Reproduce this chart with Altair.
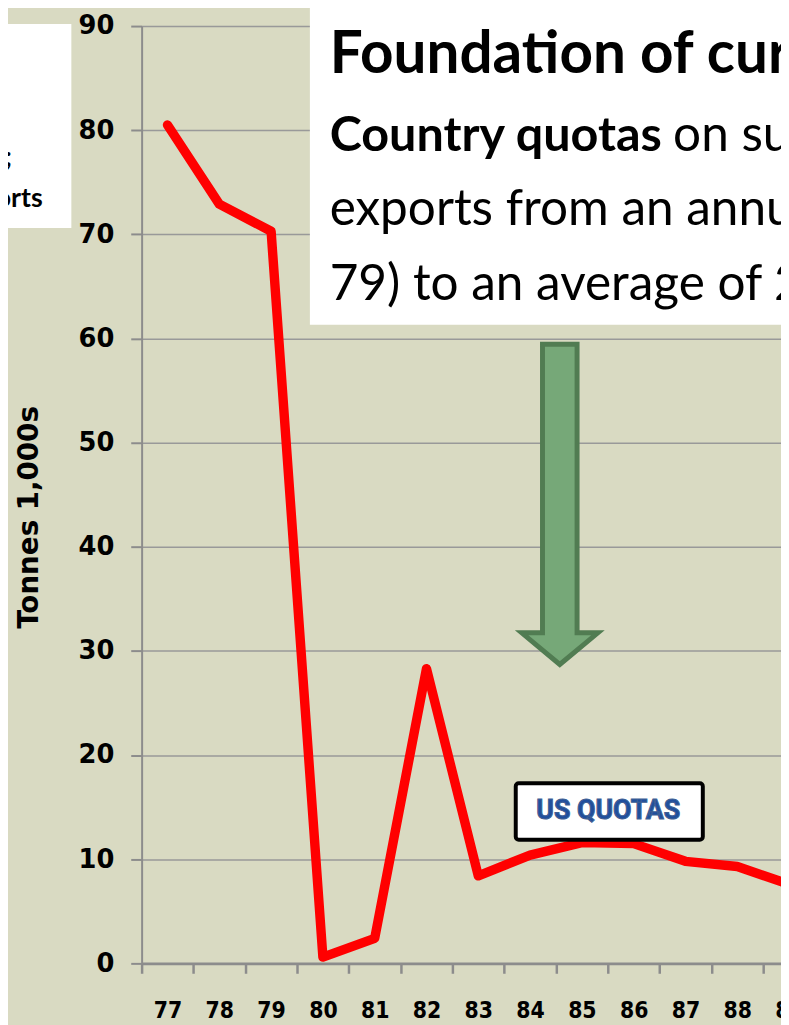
import altair as alt
import pandas as pd

# ---- data ----
years = [77, 78, 79, 80, 81, 82, 83, 84, 85, 86, 87, 88, 89]
tonnes = [80.5, 72.9, 70.3, 0.6, 2.4, 28.3, 8.4, 10.4, 11.6, 11.5, 9.8, 9.3, 7.6]
y_ticks = [0, 10, 20, 30, 40, 50, 60, 70, 80, 90]
x_bounds = [76.5, 77.5, 78.5, 79.5, 80.5, 81.5, 82.5, 83.5, 84.5, 85.5, 86.5, 87.5, 88.5]

y_title = "Tonnes 1,000s"
title_line = "Foundation of cur"
body_bold = "Country quotas"
body_line2 = "on su"
body_line3 = "exports from an annu"
body_line4 = "79) to an average of 2"
left_fragments = [";", "orts"]
quota_label = "US QUOTAS"

# ---- layout / style ----
W, H = 646, 947
BAND = 52.33
BG = "#D9DAC2"
AXIS_GREY = "#8c8c8c"
GRID_GREY = "#999999"
NUM_FONT = "DejaVu Sans"
NARROW_FONT = "DejaVu Sans Condensed, DejaVu Sans"
TEXT_FONT = "Lato"

xs = alt.Scale(domain=[76.5, 76.5 + W / BAND], nice=False, zero=False)
ys = alt.Scale(domain=[0, 90], nice=False, zero=False)

df = pd.DataFrame({"year": years, "tonnes": tonnes})

line = alt.Chart(df).mark_line(
    color="#FF0000", strokeWidth=9.5, clip=True, strokeJoin="round", strokeCap="round"
).encode(
    x=alt.X("year:Q", scale=xs, axis=alt.Axis(
        values=x_bounds, grid=False, domainColor=AXIS_GREY, domainWidth=3,
        tickColor=AXIS_GREY, tickWidth=2.5, tickSize=10,
        labelExpr="'' + (datum.value + 0.5)", labelOffset=BAND / 2,
        labelFlush=False, labelOverlap=False, labelFont=NARROW_FONT,
        labelFontSize=23, labelFontWeight="bold", labelColor="black",
        labelPadding=27, title=None)),
    y=alt.Y("tonnes:Q", scale=ys, axis=alt.Axis(
        values=y_ticks, grid=True, gridColor=GRID_GREY, gridWidth=1.5,
        domainColor=AXIS_GREY, domainWidth=2, tickColor=AXIS_GREY, tickWidth=2,
        tickSize=11, labelFont=NUM_FONT, labelFontSize=26, labelFontWeight="bold",
        labelColor="black", labelPadding=17, title=y_title, titleFont=NUM_FONT,
        titleFontSize=28, titleFontWeight="bold", titleColor="black",
        titlePadding=35, titleY=496)),
)

one = pd.DataFrame({"k": [0]})

# arrow annotation (custom symbol path)
ARROW = ("M-0.108,-1 L0.108,-1 L0.108,0.802 L0.238,0.802 L0,1 "
         "L-0.238,0.802 L-0.108,0.802 Z")
arrow = alt.Chart(one).mark_point(
    shape=ARROW, size=323.5 ** 2, filled=True, fill="#76A878",
    stroke="#517C52", strokeWidth=5, opacity=1
).encode(x=alt.value(422.5), y=alt.value(483.3))

# US QUOTAS box
qbox = alt.Chart(one).mark_rect(
    fill="white", stroke="black", strokeWidth=4, cornerRadius=3
).encode(x=alt.value(378), x2=alt.value(567), y=alt.value(765), y2=alt.value(822))

qtext = alt.Chart(pd.DataFrame({"t": [quota_label]})).mark_text(
    font="Roboto", fontSize=27, fontWeight="bold", color="#1F4F9E",
    stroke="#3f5f94", strokeWidth=1.1, align="center", baseline="middle"
).encode(x=alt.value(471.5), y=alt.value(793), text="t:N")

# white boxes
title_box = alt.Chart(one).mark_rect(fill="white").encode(
    x=alt.value(170), x2=alt.value(720), y=alt.value(-30), y2=alt.value(301.7))
left_box = alt.Chart(one).mark_rect(fill="white").encode(
    x=alt.value(-160), x2=alt.value(-71), y=alt.value(-2), y2=alt.value(204))


def txt(s, x, y, size, weight="normal", align="left"):
    return alt.Chart(pd.DataFrame({"t": [s]})).mark_text(
        font=TEXT_FONT, fontSize=size, fontWeight=weight, color="black",
        align=align, baseline="alphabetic"
    ).encode(x=alt.value(x), y=alt.value(y), text="t:N")


texts = [
    txt(title_line, 190, 47, 59, "bold"),
    txt(body_bold, 190, 126, 49, "bold"),
    txt(body_line2, 537, 126, 50),
    txt(body_line3, 190, 201, 50),
    txt(body_line4, 190, 277, 50),
    txt(left_fragments[0], -131, 141, 27, "bold", "right"),
    txt(left_fragments[1], -100, 183, 27, "bold", "right"),
]

chart = alt.layer(line, title_box, left_box, arrow, qbox, qtext, *texts).properties(
    width=W, height=H,
    autosize=alt.AutoSizeParams(type="none"),
    padding={"left": 135, "top": 13, "right": 0, "bottom": 57},
    background=BG,
).configure_view(stroke=None, fill=BG)

chart.save("out.html", embed_options={"renderer": "svg", "actions": False})
